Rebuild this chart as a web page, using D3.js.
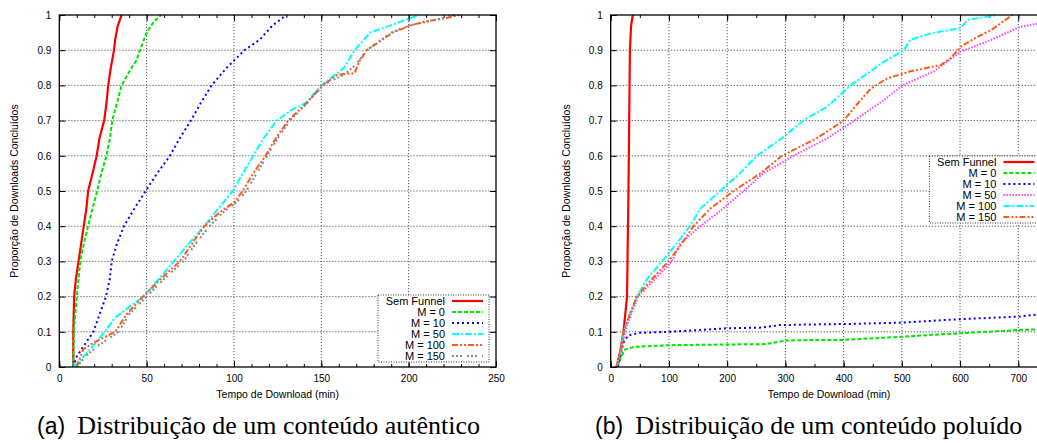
<!DOCTYPE html>
<html>
<head>
<meta charset="utf-8">
<script src="https://cdn.jsdelivr.net/npm/d3@7"></script>
<style>
  body { margin: 0; background: #fff; }
  svg { display: block; overflow: hidden; }
  text { font-family: "Liberation Sans", Arial, sans-serif; fill: #000; }
  .tick line { stroke: #000; }
</style>
</head>
<body>
<div id="chart"></div>
<script>
// (a) conteúdo autêntico
var autSemFunnelT = [8, 8, 8.5, 9.5, 11, 12.5, 14, 15.5, 16.5, 19, 21.4, 23, 25.7, 27, 28, 29.5, 31.3, 32, 33.5, 35.7];
var autSemFunnelP = [0, 0.1, 0.2, 0.25, 0.3, 0.35, 0.4, 0.45, 0.5, 0.55, 0.6, 0.65, 0.7, 0.75, 0.8, 0.85, 0.9, 0.93, 0.97, 1];
var autM0T = [8, 8.3, 10, 11, 12, 14, 16.5, 19, 21.7, 24, 27, 29, 30.3, 33, 35.7, 39, 41.4, 44, 46.2, 50, 54, 58.2];
var autM0P = [0, 0.1, 0.2, 0.25, 0.3, 0.35, 0.4, 0.45, 0.5, 0.55, 0.6, 0.65, 0.7, 0.75, 0.8, 0.83, 0.85, 0.87, 0.9, 0.95, 0.98, 1];
var autM10T = [8, 10, 14, 19.5, 26.7, 28.9, 30, 33, 37, 43, 49.4, 56, 63.3, 69, 75.3, 81, 87.2, 95.8, 106, 114.8, 122, 130];
var autM10P = [0, 0.03, 0.06, 0.1, 0.2, 0.25, 0.3, 0.35, 0.4, 0.45, 0.5, 0.55, 0.6, 0.65, 0.7, 0.75, 0.8, 0.85, 0.9, 0.93, 0.97, 1];
var autM50T = [8, 12, 17.6, 26, 32, 40, 48, 57, 65.6, 74, 83, 91, 99.4, 105, 111, 117, 124.4, 133, 141, 150, 163, 169, 178, 195, 206];
var autM50P = [0, 0.02, 0.05, 0.1, 0.14, 0.17, 0.2, 0.25, 0.3, 0.35, 0.4, 0.45, 0.5, 0.55, 0.6, 0.65, 0.7, 0.73, 0.75, 0.8, 0.85, 0.9, 0.95, 0.98, 1];
var autM100T = [10, 13.6, 20, 32, 38.5, 48, 58, 69, 76, 83, 92, 100.5, 105, 111, 118, 124, 131, 141.6, 151, 159, 169, 172, 176, 191, 201, 208, 220, 229];
var autM100P = [0, 0.05, 0.07, 0.1, 0.15, 0.2, 0.25, 0.3, 0.35, 0.4, 0.44, 0.47, 0.5, 0.55, 0.6, 0.65, 0.7, 0.75, 0.8, 0.83, 0.835, 0.87, 0.9, 0.95, 0.97, 0.98, 0.99, 1];
var autM150T = [10, 15, 22, 34, 40, 50, 60, 71, 78, 86, 94, 102, 107, 113, 119, 125, 132, 142, 150, 163, 170, 176, 190, 200, 210, 226];
var autM150P = [0, 0.03, 0.06, 0.1, 0.15, 0.2, 0.25, 0.3, 0.35, 0.4, 0.44, 0.47, 0.5, 0.55, 0.6, 0.65, 0.7, 0.75, 0.8, 0.83, 0.86, 0.9, 0.95, 0.97, 0.98, 1];

// (b) conteúdo poluído
var polSemFunnelT = [10, 17, 22, 28, 30.5, 33, 35, 38];
var polSemFunnelP = [0, 0.05, 0.1, 0.2, 0.5, 0.9, 0.97, 1];
var polM0T = [12, 18, 25, 40, 100, 200, 265, 300, 350, 400, 500, 600, 700, 750];
var polM0P = [0, 0.03, 0.05, 0.057, 0.062, 0.064, 0.065, 0.075, 0.077, 0.077, 0.086, 0.096, 0.105, 0.108];
var polM10T = [12, 18, 22, 30, 50, 100, 150, 200, 260, 290, 350, 400, 500, 600, 700, 750];
var polM10P = [0, 0.04, 0.07, 0.09, 0.097, 0.1, 0.105, 0.11, 0.112, 0.119, 0.121, 0.122, 0.126, 0.136, 0.143, 0.152];
var polM50T = [10, 18, 25, 35, 47, 76, 105, 119, 154, 193, 228, 262, 314, 372, 412, 469, 501, 555, 601, 653, 704, 750];
var polM50P = [0, 0.05, 0.1, 0.15, 0.2, 0.25, 0.3, 0.35, 0.4, 0.45, 0.5, 0.55, 0.6, 0.65, 0.693, 0.758, 0.8, 0.84, 0.896, 0.929, 0.967, 0.98];
var polM100T = [10, 18, 22, 33, 45, 62, 88, 113, 136, 154, 188, 222, 251, 294, 331, 372, 412, 429, 469, 503, 515, 550, 601, 613, 664];
var polM100P = [0, 0.05, 0.1, 0.15, 0.2, 0.25, 0.3, 0.35, 0.4, 0.45, 0.5, 0.55, 0.6, 0.65, 0.7, 0.74, 0.8, 0.82, 0.867, 0.9, 0.93, 0.948, 0.963, 0.986, 1];
var polM150T = [10, 18, 22, 33, 45, 71, 99, 122, 142, 171, 211, 257, 294, 354, 400, 425, 446, 475, 515, 567, 584, 601, 630, 653, 690];
var polM150P = [0, 0.05, 0.1, 0.15, 0.2, 0.25, 0.3, 0.35, 0.4, 0.45, 0.5, 0.55, 0.6, 0.65, 0.7, 0.75, 0.79, 0.82, 0.84, 0.858, 0.878, 0.91, 0.938, 0.957, 1];

var legendNames = ["Sem Funnel", "M = 0", "M = 10", "M = 50", "M = 100", "M = 150"];
var yTicks = [0, 0.1, 0.2, 0.3, 0.4, 0.5, 0.6, 0.7, 0.8, 0.9, 1];
var autXTicks = [0, 50, 100, 150, 200, 250];
var polXTicks = [0, 100, 200, 300, 400, 500, 600, 700];

// estilos de linha (cor, tracejado)
var styles = {
  red:     {color: "#ff0000", dash: null, width: 2.2},
  green:   {color: "#00e600", dash: "4,2", width: 2},
  blue:    {color: "#0000ff", dash: "2,3", width: 2},
  cyan:    {color: "#00ffff", dash: "7,2,2,2", width: 2},
  orange:  {color: "#ff5a1a", dash: "6,2,2,2,2,2", width: 2},
  gray:    {color: "#888888", dash: "2,2,2,2,2,5", width: 2},
  magenta: {color: "#ff44ff", dash: "1.5,1.5", width: 2}
};

function zip(t, p) {
  return t.map(function(d, i) { return [d, p[i]]; });
}

var svg = d3.select("#chart").append("svg")
    .attr("width", 1037)
    .attr("height", 443);

function createGraph(opt) {
  const left = opt.left, top = 15, width = 436.7, height = 352;

  var g = svg.append("g")
      .attr("transform", "translate(" + left + "," + top + ")");

  var x = d3.scaleLinear().domain(opt.xDomain).range([0, width]);
  var y = d3.scaleLinear().domain([0, 1]).range([height, 0]);

  // grade pontilhada
  g.append("g").selectAll("line")
      .data(opt.xTicks.filter(function(d) { return d > opt.xDomain[0] && d < opt.xDomain[1]; }))
      .enter().append("line")
      .attr("x1", function(d) { return x(d); }).attr("x2", function(d) { return x(d); })
      .attr("y1", 0).attr("y2", height)
      .attr("stroke", "#555").attr("stroke-dasharray", "1.2,1.8");
  g.append("g").selectAll("line")
      .data(yTicks.slice(1, -1))
      .enter().append("line")
      .attr("x1", 0).attr("x2", width)
      .attr("y1", function(d) { return y(d); }).attr("y2", function(d) { return y(d); })
      .attr("stroke", "#555").attr("stroke-dasharray", "1.2,1.8");

  // eixos
  var fmt = d3.format(".1~f");
  var minor = d3.range(opt.xDomain[0], opt.xDomain[1] + 0.001, opt.minorStep);

  g.append("g").attr("transform", "translate(0," + height + ")")
      .call(d3.axisBottom(x).tickValues(minor).tickSize(-3).tickFormat(""))
      .call(function(a) { a.select(".domain").remove(); });
  g.append("g").attr("transform", "translate(0," + height + ")")
      .call(d3.axisBottom(x).tickValues(opt.xTicks).tickSize(-6).tickPadding(8).tickFormat(d3.format("d")))
      .call(function(a) { a.select(".domain").remove(); a.selectAll("text").style("font-size", "10px"); });
  g.append("g")
      .call(d3.axisTop(x).tickValues(minor).tickSize(-3).tickFormat(""))
      .call(function(a) { a.select(".domain").remove(); });
  g.append("g")
      .call(d3.axisTop(x).tickValues(opt.xTicks).tickSize(-6).tickFormat(""))
      .call(function(a) { a.select(".domain").remove(); });
  g.append("g")
      .call(d3.axisLeft(y).tickValues(yTicks).tickSize(-6).tickPadding(8).tickFormat(fmt))
      .call(function(a) { a.select(".domain").remove(); a.selectAll("text").style("font-size", "10px"); });
  g.append("g").attr("transform", "translate(" + width + ",0)")
      .call(d3.axisRight(y).tickValues(yTicks).tickSize(-6).tickFormat(""))
      .call(function(a) { a.select(".domain").remove(); });

  // curvas
  var clipId = "clip" + opt.id;
  g.append("clipPath").attr("id", clipId)
    .append("rect").attr("x", 0).attr("y", -2).attr("width", width).attr("height", height + 2);

  var line = d3.line()
      .x(function(d) { return x(d[0]); })
      .y(function(d) { return y(d[1]); });

  g.append("g").attr("clip-path", "url(#" + clipId + ")")
    .selectAll("path")
      .data(opt.series)
      .enter().append("path")
      .attr("fill", "none")
      .attr("d", function(s) { return line(s.data); })
      .attr("stroke", function(s) { return styles[s.style].color; })
      .attr("stroke-width", function(s) { return styles[s.style].width; })
      .attr("stroke-dasharray", function(s) { return styles[s.style].dash; });

  // borda
  g.append("rect")
      .attr("width", width).attr("height", height)
      .attr("fill", "none").attr("stroke", "#000").attr("stroke-width", 1.3);

  // legenda
  var lg = g.append("g").attr("transform", "translate(" + opt.legendX + "," + opt.legendY + ")");
  lg.append("rect")
      .attr("width", 111).attr("height", 67)
      .attr("fill", "#fff").attr("stroke", "#333").attr("stroke-dasharray", "1,1.5");
  var item = lg.selectAll(".item")
      .data(opt.series)
      .enter().append("g")
      .attr("class", "item")
      .attr("transform", function(d, i) { return "translate(0," + (6 + i * 11) + ")"; });
  item.append("text")
      .attr("x", 67).attr("dy", "0.35em")
      .attr("text-anchor", "end")
      .style("font-size", "11px")
      .text(function(d) { return d.name; });
  item.append("line")
      .attr("x1", 74).attr("x2", 105)
      .attr("stroke", function(s) { return styles[s.style].color; })
      .attr("stroke-width", function(s) { return styles[s.style].width; })
      .attr("stroke-dasharray", function(s) { return styles[s.style].dash; });

  // rótulos dos eixos
  g.append("text")
      .attr("x", width / 2).attr("y", height + 31)
      .attr("text-anchor", "middle")
      .style("font-size", "10.5px")
      .text("Tempo de Download (min)");
  g.append("text")
      .attr("transform", "translate(-41," + (height / 2) + ") rotate(-90)")
      .attr("text-anchor", "middle")
      .style("font-size", "10.5px")
      .text("Proporção de Downloads Concluídos");

  // legenda da figura
  var cap = svg.append("text")
      .attr("x", opt.capX).attr("y", 434);
  cap.append("tspan")
      .style("font-family", "'Liberation Sans', Arial, sans-serif")
      .style("font-size", "23px")
      .text(opt.capLetter);
  cap.append("tspan").attr("dx", 12)
      .style("font-family", "'Liberation Serif', 'Times New Roman', serif")
      .style("font-size", "26px")
      .text(opt.capText);
}

createGraph({
  id: "a", left: 59.3, xDomain: [0, 250], xTicks: autXTicks, minorStep: 10,
  legendX: 318.7, legendY: 280,
  capX: 37, capLetter: "(a)", capText: "Distribuição de um conteúdo autêntico",
  series: [
    {name: legendNames[0], style: "red", data: zip(autSemFunnelT, autSemFunnelP)},
    {name: legendNames[1], style: "green", data: zip(autM0T, autM0P)},
    {name: legendNames[2], style: "blue", data: zip(autM10T, autM10P)},
    {name: legendNames[3], style: "cyan", data: zip(autM50T, autM50P)},
    {name: legendNames[4], style: "orange", data: zip(autM100T, autM100P)},
    {name: legendNames[5], style: "gray", data: zip(autM150T, autM150P)}
  ]
});

createGraph({
  id: "b", left: 610.7, xDomain: [0, 750], xTicks: polXTicks, minorStep: 50,
  legendX: 318.7, legendY: 141,
  capX: 595, capLetter: "(b)", capText: "Distribuição de um conteúdo poluído",
  series: [
    {name: legendNames[0], style: "red", data: zip(polSemFunnelT, polSemFunnelP)},
    {name: legendNames[1], style: "green", data: zip(polM0T, polM0P)},
    {name: legendNames[2], style: "blue", data: zip(polM10T, polM10P)},
    {name: legendNames[3], style: "magenta", data: zip(polM50T, polM50P)},
    {name: legendNames[4], style: "cyan", data: zip(polM100T, polM100P)},
    {name: legendNames[5], style: "orange", data: zip(polM150T, polM150P)}
  ]
});
</script>
</body>
</html>
